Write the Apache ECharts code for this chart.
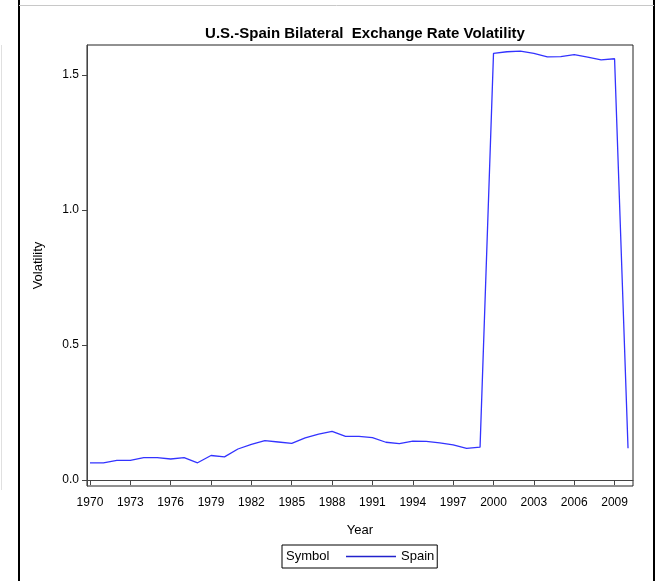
<!DOCTYPE html>
<html>
<head>
<meta charset="utf-8">
<script src="https://cdn.jsdelivr.net/npm/echarts@6/dist/echarts.min.js"></script>
<style>
  html, body { margin: 0; padding: 0; background: #fff; }
  #chart { width: 656px; height: 581px; }
</style>
</head>
<body>
<div id="chart"></div>
<script>
var years = [];
for (var y = 1970; y <= 2010; y++) years.push(y);
var volatility = [
    0.064, 0.064, 0.073, 0.073, 0.083, 0.083, 0.078, 0.083, 0.064, 0.091,
    0.086, 0.115, 0.132, 0.146, 0.141, 0.136, 0.156, 0.170, 0.180, 0.162,
    0.162, 0.157, 0.140, 0.135, 0.144, 0.143, 0.138, 0.130, 0.117, 0.122,
    1.580, 1.586, 1.588, 1.580, 1.567, 1.568, 1.575, 1.566, 1.556, 1.560,
    0.118
];
var xTicks = [1970, 1973, 1976, 1979, 1982, 1985, 1988, 1991, 1994, 1997, 2000, 2003, 2006, 2009];
var yTicks = [0, 0.5, 1.0, 1.5];

var font = 'Liberation Sans, Arial, sans-serif';
var dom = document.getElementById('chart');
var myChart = echarts.init(dom, null, { renderer: 'canvas' });

var seriesData = years.map(function (yr, i) { return [yr, volatility[i]]; });

var option = {
    animation: false,
    title: {
        text: 'U.S.-Spain Bilateral  Exchange Rate Volatility',
        left: 360,
        textAlign: 'center',
        top: 21,
        textStyle: { fontFamily: font, fontSize: 15, fontWeight: 'bold', color: '#000' }
    },
    grid: {
        left: 87, right: 23, top: 45, bottom: 95,
        show: true, borderColor: '#222', borderWidth: 1
    },
    legend: {
        left: 282,
        top: 545,
        data: ['Spain'],
        icon: 'rect',
        itemWidth: 50,
        itemHeight: 1.5,
        itemGap: 4,
        padding: [5, 3, 5, 64],
        borderColor: '#000',
        borderWidth: 1,
        textStyle: { fontFamily: font, fontSize: 13, color: '#000' }
    },
    xAxis: {
        type: 'value',
        min: 1969.78,
        max: 2010.37,
        name: 'Year',
        nameLocation: 'middle',
        nameGap: 38,
        nameTextStyle: { fontFamily: font, fontSize: 13, color: '#000' },
        splitLine: { show: false },
        axisLine: { show: true, lineStyle: { color: '#444' } },
        axisTick: { show: true, length: 5, customValues: xTicks, lineStyle: { color: '#444' } },
        axisLabel: {
            customValues: xTicks,
            fontFamily: font, fontSize: 12, color: '#000', margin: 11,
            formatter: function (v) { return String(v); }
        }
    },
    yAxis: {
        type: 'value',
        min: -0.022,
        max: 1.611,
        name: 'Volatility',
        nameLocation: 'middle',
        nameRotate: 90,
        nameGap: 42,
        nameTextStyle: { fontFamily: font, fontSize: 13, color: '#000' },
        splitLine: { show: false },
        axisLine: { show: true, lineStyle: { color: '#444' } },
        axisTick: { show: true, length: 5, customValues: yTicks, lineStyle: { color: '#444' } },
        axisLabel: {
            customValues: yTicks,
            fontFamily: font, fontSize: 12, color: '#000', margin: 8,
            formatter: function (v) { return v.toFixed(1); }
        }
    },
    series: [{
        name: 'Spain',
        type: 'line',
        data: seriesData,
        symbol: 'none',
        lineStyle: { color: '#3333ff', width: 1.3 },
        itemStyle: { color: '#2222cc' }
    }],
    graphic: [
        { type: 'line', shape: { x1: 19, y1: 0, x2: 19, y2: 581 }, style: { stroke: '#000', lineWidth: 2 } },
        { type: 'line', shape: { x1: 654, y1: 0, x2: 654, y2: 581 }, style: { stroke: '#000', lineWidth: 2 } },
        { type: 'line', shape: { x1: 19, y1: 5.5, x2: 654, y2: 5.5 }, style: { stroke: '#c8c8c8', lineWidth: 1 } },
        { type: 'line', shape: { x1: 1.5, y1: 45, x2: 1.5, y2: 490 }, style: { stroke: '#e0e0e0', lineWidth: 1 } },
        {
            type: 'text', left: 286, top: 550,
            style: { text: 'Symbol', fontFamily: font, fontSize: 13, fill: '#000' }
        }
    ]
};

if (option && typeof option === 'object') {
    myChart.setOption(option);
}
window.addEventListener('resize', myChart.resize);
</script>
</body>
</html>
